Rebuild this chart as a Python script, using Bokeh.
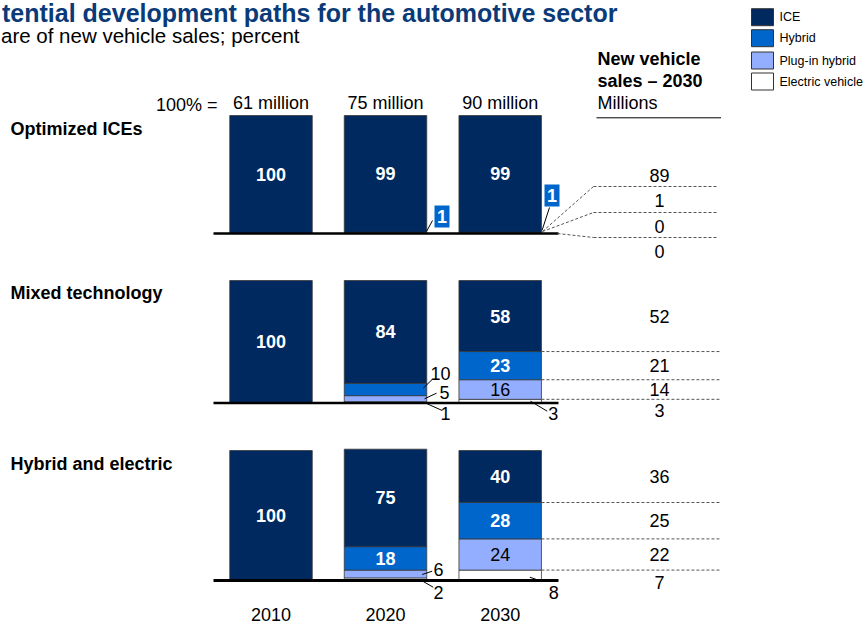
from bokeh.plotting import figure
from bokeh.models import Range1d
from bokeh.embed import file_html
from bokeh.resources import INLINE
from bokeh.core.properties import value

# ---------------- data ----------------
title_text = "tential development paths for the automotive sector"
subtitle_text = "are of new vehicle sales; percent"
scenarios = ["Optimized ICEs", "Mixed technology", "Hybrid and electric"]
years = ["2010", "2020", "2030"]
totals = ["61 million", "75 million", "90 million"]
segments = ["ICE", "Hybrid", "Plug-in hybrid", "Electric vehicle"]
seg_colors = ["#002960", "#0066CC", "#94AEFF", "#FFFFFF"]

ice = [[100, 99, 99], [100, 84, 58], [100, 75, 40]]
hybrid = [[0, 1, 1], [0, 10, 23], [0, 18, 28]]
phev = [[0, 0, 0], [0, 5, 16], [0, 6, 24]]
ev = [[0, 0, 0], [0, 1, 3], [0, 2, 8]]
sales_2030 = [[89, 1, 0, 0], [52, 21, 14, 3], [36, 25, 22, 7]]

# ---------------- layout ----------------
FONT = value("Liberation Sans")
W, H = 866, 625
p = figure(width=W, height=H, x_range=Range1d(0, W), y_range=Range1d(H, 0),
           output_backend="svg", toolbar_location=None, min_border=0,
           x_axis_location=None, y_axis_location=None)
p.grid.visible = False
p.outline_line_color = None
p.background_fill_color = "white"
p.border_fill_color = "white"

bar_x = [270.5, 385.0, 499.7]
bar_w = 82.5
base_y = [233.0, 402.5, 580.0]
top_y = [115.0, 280.0, 450.0]
scale = [(b - t) / 100.0 for b, t in zip(base_y, top_y)]
for i in range(3):
    s = scale[i]
    p.extra_y_ranges[f"p{i}"] = Range1d(start=-(H - base_y[i]) / s, end=100 + top_y[i] / s)


def u(i, yy):
    """page y -> panel units"""
    return (base_y[i] - yy) / scale[i]


def txt(x, y, t, size="18px", bold=False, color="#000000", align="center", rng="default"):
    p.text(x=x, y=y, text=t, text_font=FONT, text_font_size=size,
           text_font_style="bold" if bold else "normal", text_color=color,
           text_align=align, text_baseline="middle", y_range_name=rng)


# title & subtitle (as visible, cropped on the left in the reference)
txt([1.5], [12.0], [title_text], size="25px", bold=True, color="#0A3A78", align="left")
txt([0.5], [34.6], [subtitle_text], size="20.5px", align="left")

# legend
leg_y = [16.7, 37.7, 60.0, 81.0]
p.quad(left=751, right=773, top=[y - 8.5 for y in leg_y], bottom=[y + 8.5 for y in leg_y],
       fill_color=seg_colors, line_color="#333333", line_width=1)
txt([779] * 4, leg_y, segments, size="12.5px", align="left")

# header row
txt([217], [104.7], ["100% ="], align="right")
txt(bar_x, [102.5] * 3, totals)
txt([597], [58.0], ["New vehicle"], bold=True, align="left")
txt([597], [80.9], ["sales \u2013 2030"], bold=True, align="left")
txt([597], [102.5], ["Millions"], align="left")
p.segment(x0=[596], y0=[117.3], x1=[720.5], y1=[117.3], line_color="#000000", line_width=1)

# scenario labels
txt([10] * 3, [128.2, 292.8, 463.0], scenarios, bold=True, align="left")

# year labels
txt(bar_x, [613.8] * 3, years)

# ---------------- bars ----------------
for i in range(3):
    rng = f"p{i}"
    stacks = [ev[i], phev[i], hybrid[i], ice[i]]   # bottom -> top
    cols = [seg_colors[3], seg_colors[2], seg_colors[1], seg_colors[0]]
    bottom = [0, 0, 0]
    mids = []
    for k, vals in enumerate(stacks):
        xs, b, t = [], [], []
        for j in range(3):
            if vals[j] > 0:
                xs.append(bar_x[j])
                b.append(bottom[j])
                t.append(bottom[j] + vals[j])
        if xs:
            p.vbar(x=xs, width=bar_w, bottom=b, top=t, fill_color=cols[k],
                   line_color="#3a3a3a", line_width=0.8, y_range_name=rng)
        mids.append([bottom[j] + vals[j] / 2 for j in range(3)])
        bottom = [bottom[j] + vals[j] for j in range(3)]
    # inside labels
    for k, vals in enumerate(stacks):
        xs, ys, ts = [], [], []
        for j in range(3):
            if vals[j] >= 12:
                xs.append(bar_x[j])
                ys.append(mids[k][j])
                ts.append(str(vals[j]))
        if xs:
            if k == 1:
                txt(xs, ys, ts, rng=rng)
            else:
                txt(xs, ys, ts, bold=True, color="#FFFFFF", rng=rng)
    # baseline
    p.segment(x0=[213], y0=[base_y[i]], x1=[558], y1=[base_y[i]], line_color="#000000",
              line_width=3 if i == 2 else 2.5)

# ---------------- right column ----------------
right_edge = bar_x[2] + bar_w / 2
DASH = dict(line_color="#555555", line_width=1, line_dash="3 2")

# panel 1 (fan-out connectors)
p1_rows = [175, 200, 226, 251]
txt([659] * 4, p1_rows, [str(v) for v in sales_2030[0]])
p.segment(x0=[593] * 3, y0=[186, 212, 237], x1=[718] * 3, y1=[186, 212, 237], **DASH)
p.segment(x0=[542, 542, 557], y0=[231, 231, 233], x1=[593, 593, 593], y1=[186, 212, 237], **DASH)

# panels 2 & 3: dashed lines at 2030 segment boundaries
for i in (1, 2):
    rng = f"p{i}"
    b_ev = ev[i][2]
    b_ph = b_ev + phev[i][2]
    b_hy = b_ph + hybrid[i][2]
    top = b_hy + ice[i][2]
    p.segment(x0=[right_edge] * 3, y0=[b_hy, b_ph, b_ev], x1=[720] * 3, y1=[b_hy, b_ph, b_ev],
              y_range_name=rng, **DASH)
    ev_off = 7.5 if i == 1 else 2.0
    ys = [(b_hy + top) / 2, (b_ph + b_hy) / 2, (b_ev + b_ph) / 2, u(i, base_y[i] + ev_off)]
    txt([659] * 4, ys, [str(v) for v in sales_2030[i]], rng=rng)

# ---------------- callouts for small segments ----------------
# panel 1 hybrid boxes
box_c = [(441.5, 216.0), (551.5, 195.0)]
p.rect(x=[c[0] for c in box_c], y=[c[1] for c in box_c], width=15, height=22,
       fill_color="#0066CC", line_color=None)
txt([c[0] for c in box_c], [c[1] for c in box_c], [str(hybrid[0][1]), str(hybrid[0][2])],
    bold=True, color="#FFFFFF")
p.segment(x0=[426, 541.5], y0=[231, 230], x1=[432, 549], y1=[220, 207],
          line_color="#000000", line_width=1)

callouts = [
    # (text, label x, label y, leader x0, y0, x1, y1)
    (str(hybrid[1][1]), 440.0, 372.7, 422.7, 387.7, 431.7, 379.0),
    (str(phev[1][1]), 444.0, 391.7, 424.0, 398.3, 436.0, 392.7),
    (str(ev[1][1]), 445.0, 412.7, 426.7, 403.3, 441.7, 410.0),
    (str(ev[1][2]), 552.7, 412.7, 530.0, 400.7, 546.7, 410.7),
    (str(phev[2][1]), 438.0, 569.0, 421.7, 574.0, 431.7, 570.7),
    (str(ev[2][1]), 438.0, 591.7, 422.7, 581.0, 432.7, 586.7),
    (str(ev[2][2]), 553.3, 591.7, 529.3, 576.7, 541.7, 581.0),
]
txt([c[1] for c in callouts], [c[2] for c in callouts], [c[0] for c in callouts])
p.segment(x0=[c[3] for c in callouts], y0=[c[4] for c in callouts],
          x1=[c[5] for c in callouts], y1=[c[6] for c in callouts],
          line_color="#000000", line_width=1)

open("out.html", "w").write(file_html(p, INLINE))
